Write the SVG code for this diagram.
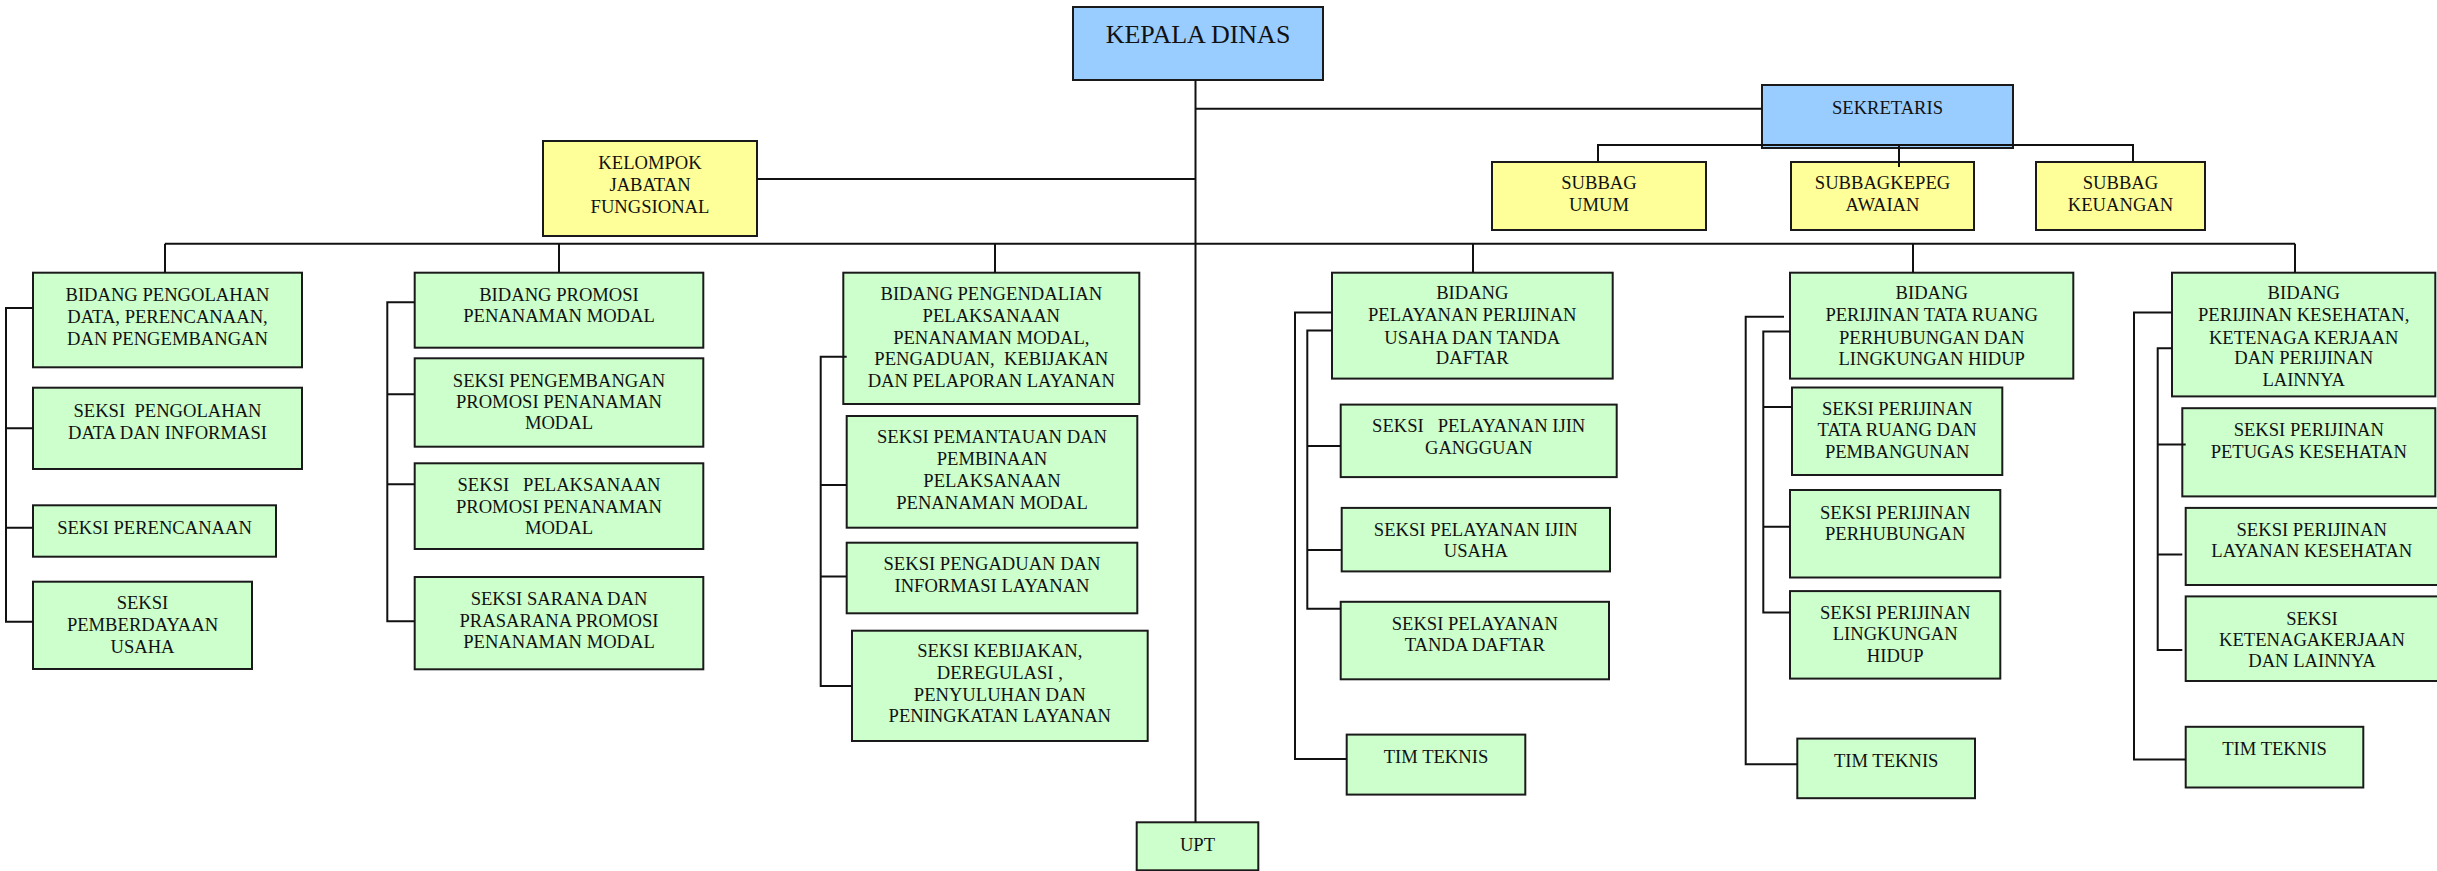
<svg xmlns="http://www.w3.org/2000/svg" width="2437" height="871" viewBox="0 0 2437 871">
<style>
rect{stroke:#1a1a1a;stroke-width:2}
.g{fill:#CCFFCC}
.y{fill:#FFFF99}
.u{fill:#99CCFF}
text{font-family:"Liberation Serif","Times New Roman",serif;font-size:18.6px;text-anchor:middle;fill:#111;white-space:pre}
#connectors path{stroke:#111;stroke-width:2;fill:none}
</style>

<g id="kepala"><rect class="u" x="1073" y="7" width="250" height="73"/><text x="1198" y="43" style="font-size:26px">KEPALA DINAS</text></g>
<g id="sekretaris"><rect class="u" x="1762" y="85" width="251" height="63"/><text x="1887.5" y="114">SEKRETARIS</text></g>
<g id="kelompok"><rect class="y" x="543" y="141" width="214" height="95"/><text x="650" y="169">KELOMPOK</text><text x="650" y="191">JABATAN</text><text x="650" y="213">FUNGSIONAL</text></g>
<g id="subbag-umum"><rect class="y" x="1492" y="162" width="214" height="68"/><text x="1599" y="189">SUBBAG</text><text x="1599" y="210.7">UMUM</text></g>
<g id="subbag-kepeg"><rect class="y" x="1791" y="162" width="183" height="68"/><text x="1882.5" y="189">SUBBAGKEPEG</text><text x="1882.5" y="210.7">AWAIAN</text></g>
<g id="subbag-keuangan"><rect class="y" x="2036" y="162" width="169" height="68"/><text x="2120.5" y="189">SUBBAG</text><text x="2120.5" y="210.7">KEUANGAN</text></g>

<g id="bidang1"><rect class="g" x="33" y="272.7" width="269" height="94.6"/><text x="167.5" y="301">BIDANG PENGOLAHAN</text><text x="167.5" y="322.7">DATA, PERENCANAAN,</text><text x="167.5" y="344.7">DAN PENGEMBANGAN</text></g>
<g id="seksi1a"><rect class="g" x="33" y="387.7" width="269" height="81.3"/><text x="167.5" y="416.7">SEKSI  PENGOLAHAN</text><text x="167.5" y="438.7">DATA DAN INFORMASI</text></g>
<g id="seksi1b"><rect class="g" x="33" y="505.3" width="243" height="51.4"/><text x="154.5" y="534">SEKSI PERENCANAAN</text></g>
<g id="seksi1c"><rect class="g" x="33" y="581.7" width="219" height="87.3"/><text x="142.5" y="609.3">SEKSI</text><text x="142.5" y="631">PEMBERDAYAAN</text><text x="142.5" y="653.3">USAHA</text></g>

<g id="bidang2"><rect class="g" x="414.7" y="272.7" width="288.6" height="75"/><text x="559" y="300.7">BIDANG PROMOSI</text><text x="559" y="322.3">PENANAMAN MODAL</text></g>
<g id="seksi2a"><rect class="g" x="414.7" y="358.3" width="288.6" height="88.4"/><text x="559" y="386.7">SEKSI PENGEMBANGAN</text><text x="559" y="408.3">PROMOSI PENANAMAN</text><text x="559" y="429.3">MODAL</text></g>
<g id="seksi2b"><rect class="g" x="414.7" y="463.3" width="288.6" height="85.7"/><text x="559" y="491">SEKSI   PELAKSANAAN</text><text x="559" y="513">PROMOSI PENANAMAN</text><text x="559" y="534">MODAL</text></g>
<g id="seksi2c"><rect class="g" x="414.7" y="577" width="288.6" height="92.3"/><text x="559" y="605.3">SEKSI SARANA DAN</text><text x="559" y="626.7">PRASARANA PROMOSI</text><text x="559" y="648.3">PENANAMAN MODAL</text></g>

<g id="bidang3"><rect class="g" x="843.3" y="272.7" width="296" height="131.3"/><text x="991.3" y="300">BIDANG PENGENDALIAN</text><text x="991.3" y="321.7">PELAKSANAAN</text><text x="991.3" y="344">PENANAMAN MODAL,</text><text x="991.3" y="365">PENGADUAN,  KEBIJAKAN</text><text x="991.3" y="386.7">DAN PELAPORAN LAYANAN</text></g>
<g id="seksi3a"><rect class="g" x="846.7" y="416" width="290.6" height="111.7"/><text x="992" y="443.3">SEKSI PEMANTAUAN DAN</text><text x="992" y="465">PEMBINAAN</text><text x="992" y="486.7">PELAKSANAAN</text><text x="992" y="508.7">PENANAMAN MODAL</text></g>
<g id="seksi3b"><rect class="g" x="846.7" y="542.7" width="290.6" height="70.6"/><text x="992" y="570">SEKSI PENGADUAN DAN</text><text x="992" y="591.7">INFORMASI LAYANAN</text></g>
<g id="seksi3c"><rect class="g" x="852" y="630.7" width="295.7" height="110.3"/><text x="999.8" y="657.3">SEKSI KEBIJAKAN,</text><text x="999.8" y="679.3">DEREGULASI ,</text><text x="999.8" y="700.7">PENYULUHAN DAN</text><text x="999.8" y="722.3">PENINGKATAN LAYANAN</text></g>

<g id="bidang4"><rect class="g" x="1332" y="272.7" width="280.7" height="105.9"/><text x="1472.3" y="299.3">BIDANG</text><text x="1472.3" y="321.4">PELAYANAN PERIJINAN</text><text x="1472.3" y="343.6">USAHA DAN TANDA</text><text x="1472.3" y="364.3">DAFTAR</text></g>
<g id="seksi4a"><rect class="g" x="1340.7" y="404.6" width="276" height="72.5"/><text x="1478.7" y="432.1">SEKSI   PELAYANAN IJIN</text><text x="1478.7" y="453.6">GANGGUAN</text></g>
<g id="seksi4b"><rect class="g" x="1341.7" y="507.9" width="268.3" height="63.5"/><text x="1475.8" y="535.7">SEKSI PELAYANAN IJIN</text><text x="1475.8" y="557.1">USAHA</text></g>
<g id="seksi4c"><rect class="g" x="1340.7" y="601.8" width="268.3" height="77.5"/><text x="1474.8" y="629.6">SEKSI PELAYANAN</text><text x="1474.8" y="651.1">TANDA DAFTAR</text></g>
<g id="tim4"><rect class="g" x="1346.7" y="734.6" width="178.6" height="60"/><text x="1436" y="762.5">TIM TEKNIS</text></g>

<g id="bidang5"><rect class="g" x="1790" y="272.7" width="283.3" height="105.9"/><text x="1931.7" y="299.3">BIDANG</text><text x="1931.7" y="321.4">PERIJINAN TATA RUANG</text><text x="1931.7" y="343.6">PERHUBUNGAN DAN</text><text x="1931.7" y="365">LINGKUNGAN HIDUP</text></g>
<g id="seksi5a"><rect class="g" x="1792" y="387.5" width="210.3" height="87.5"/><text x="1897.2" y="415">SEKSI PERIJINAN</text><text x="1897.2" y="436.4">TATA RUANG DAN</text><text x="1897.2" y="457.9">PEMBANGUNAN</text></g>
<g id="seksi5b"><rect class="g" x="1790" y="490" width="210.3" height="87.5"/><text x="1895.2" y="518.6">SEKSI PERIJINAN</text><text x="1895.2" y="540">PERHUBUNGAN</text></g>
<g id="seksi5c"><rect class="g" x="1790" y="591.1" width="210.3" height="87.5"/><text x="1895.2" y="618.9">SEKSI PERIJINAN</text><text x="1895.2" y="640.4">LINGKUNGAN</text><text x="1895.2" y="661.8">HIDUP</text></g>
<g id="tim5"><rect class="g" x="1797.3" y="738.6" width="177.7" height="59.6"/><text x="1886.2" y="766.8">TIM TEKNIS</text></g>

<g id="bidang6"><rect class="g" x="2172" y="272.7" width="263.3" height="123.7"/><text x="2303.7" y="299.3">BIDANG</text><text x="2303.7" y="321.4">PERIJINAN KESEHATAN,</text><text x="2303.7" y="343.6">KETENAGA KERJAAN</text><text x="2303.7" y="364.3">DAN PERIJINAN</text><text x="2303.7" y="385.7">LAINNYA</text></g>
<g id="seksi6a"><rect class="g" x="2182.3" y="408.2" width="253" height="88.2"/><text x="2308.8" y="435.7">SEKSI PERIJINAN</text><text x="2308.8" y="457.9">PETUGAS KESEHATAN</text></g>
<g id="seksi6b"><rect class="g" x="2185.7" y="507.9" width="256" height="77.1"/><text x="2311.7" y="535.7">SEKSI PERIJINAN</text><text x="2311.7" y="557.1">LAYANAN KESEHATAN</text></g>
<g id="seksi6c"><rect class="g" x="2185.7" y="596.4" width="256" height="84.6"/><text x="2312" y="625">SEKSI</text><text x="2312" y="646.4">KETENAGAKERJAAN</text><text x="2312" y="667.1">DAN LAINNYA</text></g>
<g id="tim6"><rect class="g" x="2185.7" y="726.8" width="177.6" height="60.7"/><text x="2274.5" y="755.4">TIM TEKNIS</text></g>

<g id="upt"><rect class="g" x="1136.7" y="822.3" width="121.6" height="48"/><text x="1197.5" y="850.7">UPT</text></g>

<g id="connectors">
<path d="M1195.5 80V822.3"/>
<path d="M1195.5 108.7H1762"/>
<path d="M757 179H1195.5"/>
<path d="M165 243.7H2295"/>
<path d="M165 243.7V272.7M559 243.7V272.7M995 243.7V272.7M1473 243.7V272.7M1913 243.7V272.7M2295 243.7V272.7"/>
<path d="M1598 162V145H2133V162M1899 145V167"/>
<path d="M33 308H6V621.7H33M6 428.3H33M6 527.7H33"/>
<path d="M414.7 302.3H387.3V621.3H414.7M387.3 394.3H414.7M387.3 484.3H414.7"/>
<path d="M846.7 356.7H820.7V686H852M820.7 485H846.7M820.7 576.5H846.7"/>
<path d="M1332 312.5H1295V758.9H1346.7"/>
<path d="M1332 330.4H1307.3V608.8H1340.7M1307.3 446H1340.7M1307.3 550H1341.7"/>
<path d="M1784 316.8H1745.7V764.3H1797.3"/>
<path d="M1790 331.4H1763.3V612.5H1790M1763.3 407.1H1792M1763.3 526.8H1790"/>
<path d="M2172 312.5H2134V759.6H2185.7"/>
<path d="M2172 348.2H2157.7V650H2182.3M2157.7 444.6H2185.7M2157.7 554.6H2182.3"/>
</g>
</svg>
